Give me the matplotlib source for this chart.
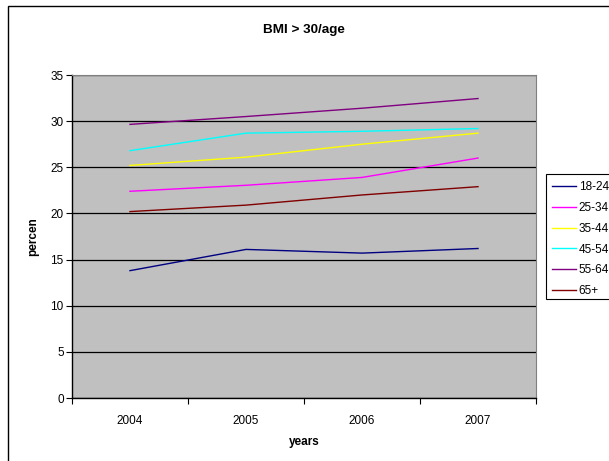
import matplotlib
matplotlib.use("Agg")
import matplotlib.pyplot as plt
from matplotlib.patches import Rectangle

plt.rcParams['font.family'] = ['Liberation Sans', 'DejaVu Sans']

years = ['2004', '2005', '2006', '2007']
age_groups = ['18-24', '25-34', '35-44', '45-54', '55-64', '65+']
values = {
    '18-24': [13.8, 16.1, 15.7, 16.2],
    '25-34': [22.4, 23.05, 23.9, 26.0],
    '35-44': [25.2, 26.1, 27.5, 28.7],
    '45-54': [26.8, 28.7, 28.9, 29.2],
    '55-64': [29.65, 30.5, 31.4, 32.45],
    '65+':   [20.2, 20.9, 22.0, 22.9],
}
colors = {
    '18-24': '#000080',
    '25-34': '#FF00FF',
    '35-44': '#FFFF00',
    '45-54': '#00FFFF',
    '55-64': '#800080',
    '65+':   '#800000',
}
y_ticks = [0, 5, 10, 15, 20, 25, 30, 35]

fig = plt.figure(figsize=(6.09, 4.61), dpi=100)
W, H = 609, 461

# outer chart frame
fig.patches.append(Rectangle((8 / W, 1 - 600 / H), 700 / W, (600 - 6) / H,
                             transform=fig.transFigure, fill=False,
                             edgecolor='black', linewidth=1.0))
# legend box
fig.patches.append(Rectangle((546 / W, 1 - 299 / H), 200 / W, (299 - 174) / H,
                             transform=fig.transFigure, facecolor='white',
                             edgecolor='black', linewidth=0.8, zorder=2))

ax = fig.add_axes([72 / W, 1 - 398 / H, (536 - 72) / W, (398 - 75) / H])
ax.set_facecolor('#C0C0C0')

x = list(range(len(years)))
lines = []
for g in age_groups:
    ln, = ax.plot(x, values[g], color=colors[g], linewidth=1.0, label=g)
    lines.append(ln)

ax.set_xlim(-0.5, len(years) - 0.5)
ax.set_ylim(0, 35)
ax.set_yticks(y_ticks)
ax.set_yticklabels([str(v) for v in y_ticks], fontsize=8.5)
ax.yaxis.grid(True, color='black', linewidth=0.9)
ax.set_axisbelow(True)

ax.set_xticks([i - 0.5 for i in range(len(years) + 1)])
ax.set_xticklabels([])
ax.set_xticks(x, minor=True)
ax.set_xticklabels(years, minor=True, fontsize=8.5)
ax.tick_params(axis='x', which='minor', length=0, pad=12)
ax.tick_params(axis='x', which='major', direction='out', length=4, width=0.8)
ax.tick_params(axis='y', direction='out', length=4, width=0.8, pad=2)

for side in ['left', 'bottom']:
    ax.spines[side].set_linewidth(1.0)
    ax.spines[side].set_color('black')
for side in ['top', 'right']:
    ax.spines[side].set_color('#808080')
    ax.spines[side].set_linewidth(0.8)

ax.set_title('BMI > 30/age', fontsize=9.7, fontweight='bold', pad=30)
ax.set_xlabel('years', fontsize=8.5, fontweight='bold', labelpad=7)
ax.set_ylabel('percen', fontsize=8.5, fontweight='bold', labelpad=8)

leg = fig.legend(lines, age_groups, loc='upper left',
                 bbox_to_anchor=(552 / W, 1 - 181 / H),
                 fontsize=8.5, frameon=False,
                 borderaxespad=0, borderpad=0, handlelength=2.0,
                 handletextpad=0.25, labelspacing=0.75)
leg.set_zorder(3)

fig.savefig('out.png', dpi=100)
